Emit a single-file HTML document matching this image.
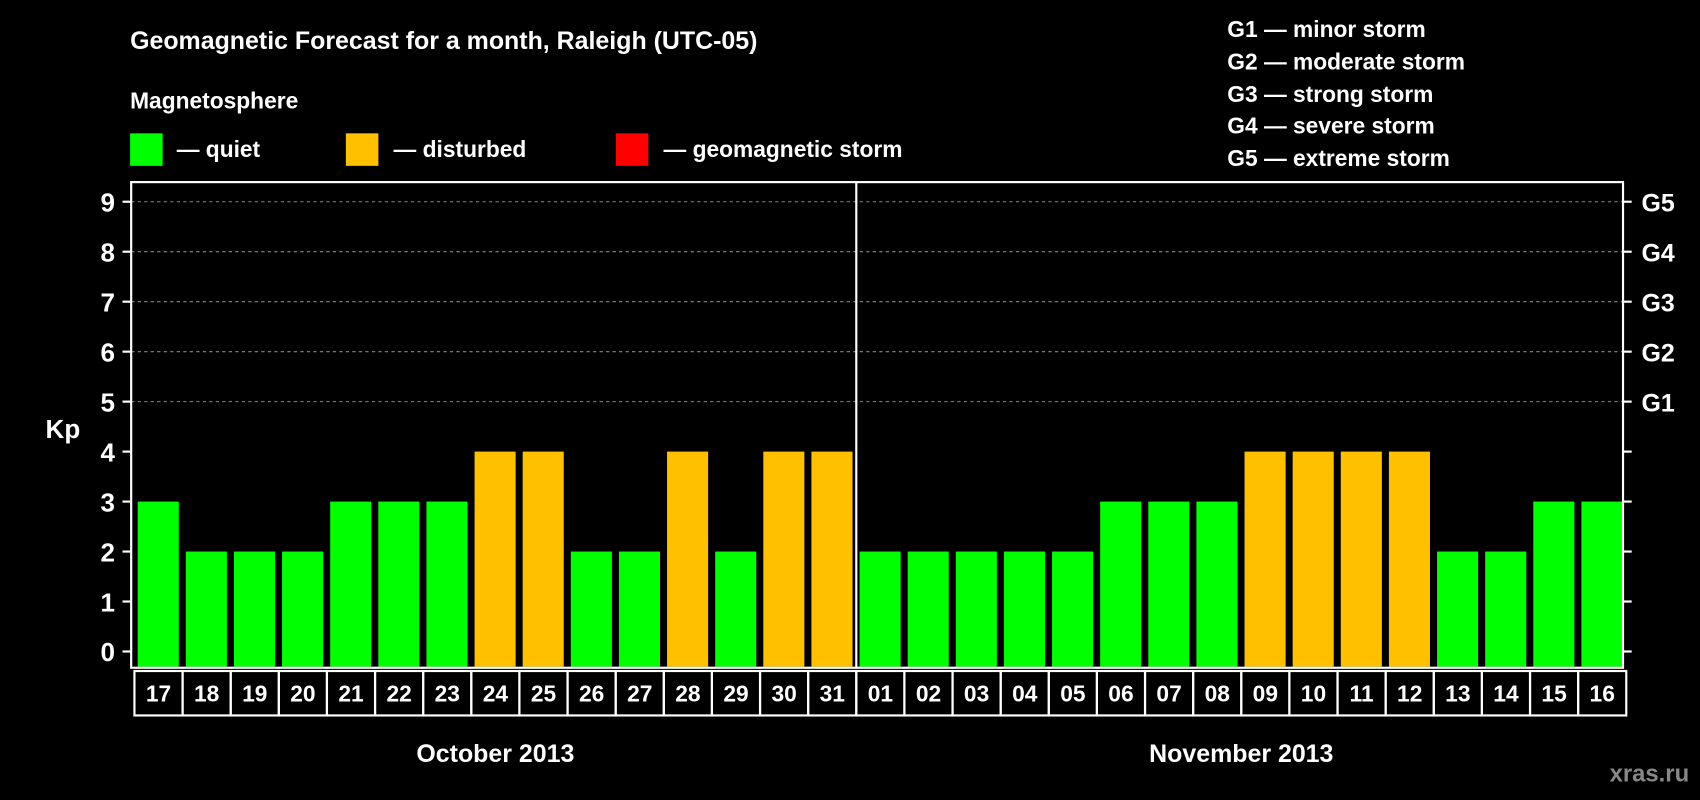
<!DOCTYPE html>
<html><head><meta charset="utf-8"><style>
html,body{margin:0;padding:0;background:#000;width:1700px;height:800px;overflow:hidden}
svg{display:block;font-family:"Liberation Sans",sans-serif;font-weight:bold}
</style></head><body>
<svg id="chart" width="1700" height="800" viewBox="0 0 1568 738" preserveAspectRatio="none">
<rect width="1568" height="738" fill="#000"/>
<text x="120" y="45" fill="#fff" font-size="23">Geomagnetic Forecast for a month, Raleigh (UTC-05)</text>
<text x="120" y="100" fill="#fff" font-size="21">Magnetosphere</text>
<g><rect x="120" y="123" width="30" height="30" fill="#00ff00"/><text x="163" y="145" fill="#fff" font-size="21">— quiet</text></g>
<g><rect x="319" y="123" width="30" height="30" fill="#ffc000"/><text x="363" y="145" fill="#fff" font-size="21">— disturbed</text></g>
<g><rect x="568" y="123" width="30" height="30" fill="#ff0000"/><text x="612" y="145" fill="#fff" font-size="21">— geomagnetic storm</text></g>
<g fill="#fff" font-size="21">
<text x="1132" y="34">G1 — minor storm</text><text x="1132" y="64">G2 — moderate storm</text><text x="1132" y="94">G3 — strong storm</text><text x="1132" y="123">G4 — severe storm</text><text x="1132" y="153">G5 — extreme storm</text>
</g>
<text x="58" y="404" fill="#fff" font-size="24" text-anchor="middle">Kp</text>
<g id="plot"></g>
<text x="1558" y="721" fill="#888" font-size="22" text-anchor="end">xras.ru</text>
</svg>
<script>
const days=["17","18","19","20","21","22","23","24","25","26","27","28","29","30","31","01","02","03","04","05","06","07","08","09","10","11","12","13","14","15","16"];
const kp=[3,2,2,2,3,3,3,4,4,2,2,4,2,4,4,2,2,2,2,2,3,3,3,4,4,4,4,2,2,3,3];
const yTicks=[0,1,2,3,4,5,6,7,8,9];
const gLabels=["G1","G2","G3","G4","G5"];
const gLevels=[5,6,7,8,9];
const months=["October 2013","November 2013"];
const monthStart=[0,15];
const NS="http://www.w3.org/2000/svg";
const L=121,R=1497,T=168,B=616;
const y=v=>601-v*46.1;
const slot=(R-L)/days.length;
const x=i=>L+i*slot;
const g=document.getElementById('plot');
function mk(t,a,p){const e=document.createElementNS(NS,t);for(const k in a)e.setAttribute(k,a[k]);(p||g).appendChild(e);return e;}
yTicks.forEach(v=>{
  if(v>=5){const ln=mk('line',{x1:L,x2:R,y1:y(v),y2:y(v),stroke:'#888','stroke-dasharray':'3,3'});
  
  }
  mk('line',{x1:L-8,x2:L,y1:y(v),y2:y(v),stroke:'#fff','stroke-width':2});
  mk('line',{x1:R,x2:R+8,y1:y(v),y2:y(v),stroke:'#fff','stroke-width':2});
  const t=mk('text',{x:106,y:y(v)+9,fill:'#fff','font-size':24,'text-anchor':'end'});t.textContent=v;
  
  
});
gLabels.forEach((s,i)=>{const t=mk('text',{x:1514,y:y(gLevels[i])+9,fill:'#fff','font-size':23});t.textContent=s;
  
  });
kp.forEach((v,i)=>{
  const r=mk('rect',{x:x(i)+6,y:y(v),width:slot-6.5,height:B-1-y(v),fill:v>=5?'#ff0000':(v>=4?'#ffc000':'#00ff00')});
  
  
  mk('rect',{x:x(i)+3,y:619,width:slot,height:41,fill:'none',stroke:'#fff','stroke-width':2});
  const t=mk('text',{x:x(i)+3+slot/2,y:647,fill:'#fff','font-size':21,'text-anchor':'middle'});t.textContent=days[i];
  
  
});
const fr=mk('rect',{x:L,y:T,width:R-L,height:B-T,fill:'none',stroke:'#fff','stroke-width':2});


const dv=mk('line',{x1:x(15)+3,x2:x(15)+3,y1:T,y2:B,stroke:'#fff','stroke-width':2});


months.forEach((m,i)=>{const s=monthStart[i],e=i+1<monthStart.length?monthStart[i+1]:days.length;
  const t=mk('text',{x:(x(s)+x(e))/2+3,y:703,fill:'#fff','font-size':23,'text-anchor':'middle'});t.textContent=m;
  
  });
</script>
</body></html>
